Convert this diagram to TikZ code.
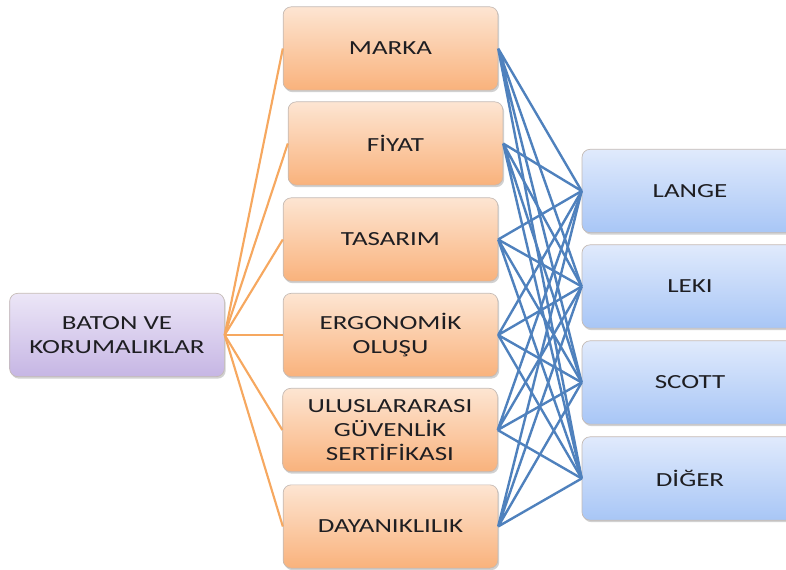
\documentclass[tikz,border=0pt]{standalone}
\usepackage{fontspec}
\setmainfont{Carlito}[FakeStretch=1.35]
\usetikzlibrary{shadows}

\definecolor{orangetop}{RGB}{253,229,210}
\definecolor{orangebot}{RGB}{249,178,124}
\definecolor{purpletop}{RGB}{236,230,247}
\definecolor{purplebot}{RGB}{198,182,228}
\definecolor{bluetop}{RGB}{224,234,252}
\definecolor{bluebot}{RGB}{168,198,246}
\definecolor{boxedge}{RGB}{196,186,180}
\definecolor{orangeline}{RGB}{246,168,96}
\definecolor{blueline}{RGB}{79,129,189}
\definecolor{textgray}{RGB}{30,30,34}

\tikzset{every picture/.style={line width=0.75pt}}
\tikzset{
	boxbase/.style={draw=boxedge, line width=0.5pt, rounded corners=6pt, align=center,
		text=textgray, font=\fontsize{15}{18}\selectfont,
		minimum width=161pt, minimum height=62.5pt, inner sep=0pt,
		drop shadow={shadow xshift=1pt, shadow yshift=-1.5pt, opacity=0.3, fill=black!60}},
	rootbox/.style={boxbase, top color=purpletop, bottom color=purplebot},
	critbox/.style={boxbase, top color=orangetop, bottom color=orangebot},
	brandbox/.style={boxbase, top color=bluetop, bottom color=bluebot, minimum width=162pt},
	rootlink/.style={draw=orangeline, line width=1.6pt},
	brandlink/.style={draw=blueline, line width=1.8pt}
}

\begin{document}
\begin{tikzpicture}[x=0.75pt,y=0.75pt,yscale=-1,xscale=1]
	\useasboundingbox (0,0) rectangle (786,570); %set diagram to 786 x 570

	%Shape: Rounded Rectangle [root]
	\node [rootbox] (baton) at (117,335) {BATON VE\\KORUMALIKLAR};

	%Shape: Rounded Rectangle [criteria]
	\node [critbox] (marka) at (390.5,48.5) {MARKA};
	\node [critbox] (fiyat) at (395.5,143.5) {FİYAT};
	\node [critbox] (tasarim) at (390.5,239.5) {TASARIM};
	\node [critbox] (ergonomik) at (390.5,335) {ERGONOMİK\\OLUŞU};
	\node [critbox] (sertifika) at (390,430) {ULUSLARARASI\\GÜVENLİK\\SERTİFİKASI};
	\node [critbox] (dayaniklilik) at (390.5,526.5) {DAYANIKLILIK};

	%Shape: Rounded Rectangle [brands]
	\node [brandbox] (lange) at (690,191) {LANGE};
	\node [brandbox] (leki) at (690,286.5) {LEKI};
	\node [brandbox] (scott) at (690,382.5) {SCOTT};
	\node [brandbox] (diger) at (690,478.5) {DİĞER};

	%Straight Lines [root to criteria]
	\draw [rootlink] (baton.east) -- (marka.west);
	\draw [rootlink] (baton.east) -- (fiyat.west);
	\draw [rootlink] (baton.east) -- (tasarim.west);
	\draw [rootlink] (baton.east) -- (ergonomik.west);
	\draw [rootlink] (baton.east) -- (sertifika.west);
	\draw [rootlink] (baton.east) -- (dayaniklilik.west);

	%Straight Lines [criteria to brands]
	\draw [brandlink] (marka.east) -- (lange.west) (marka.east) -- (leki.west) (marka.east) -- (scott.west) (marka.east) -- (diger.west);
	\draw [brandlink] (fiyat.east) -- (lange.west) (fiyat.east) -- (leki.west) (fiyat.east) -- (scott.west) (fiyat.east) -- (diger.west);
	\draw [brandlink] (tasarim.east) -- (lange.west) (tasarim.east) -- (leki.west) (tasarim.east) -- (scott.west) (tasarim.east) -- (diger.west);
	\draw [brandlink] (ergonomik.east) -- (lange.west) (ergonomik.east) -- (leki.west) (ergonomik.east) -- (scott.west) (ergonomik.east) -- (diger.west);
	\draw [brandlink] (sertifika.east) -- (lange.west) (sertifika.east) -- (leki.west) (sertifika.east) -- (scott.west) (sertifika.east) -- (diger.west);
	\draw [brandlink] (dayaniklilik.east) -- (lange.west) (dayaniklilik.east) -- (leki.west) (dayaniklilik.east) -- (scott.west) (dayaniklilik.east) -- (diger.west);

\end{tikzpicture}
\end{document}
